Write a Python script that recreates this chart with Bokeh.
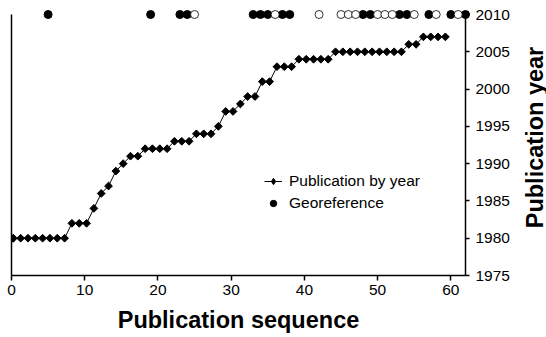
import math
from bokeh.plotting import figure
from bokeh.models import (ColumnDataSource, Range1d, LinearAxis, FixedTicker,
                          Legend, LegendItem)
from bokeh.core.properties import value
from bokeh.transform import dodge
from bokeh.embed import file_html
from bokeh.resources import INLINE

# ---- data ----
pub_seq = list(range(1, 61))
pub_year = ([1980] * 8 + [1982] * 3 + [1984, 1986, 1987, 1989, 1990]
            + [1991] * 2 + [1992] * 4 + [1993] * 3 + [1994] * 3 + [1995]
            + [1997] * 2 + [1998] + [1999] * 2 + [2001] * 2 + [2003] * 3
            + [2004] * 5 + [2005] * 10 + [2006] * 2 + [2007] * 4)

geo_filled = [5, 19, 23, 24, 33, 34, 35, 37, 38, 48, 49, 53, 54, 57, 60, 62]
geo_open = [25, 36, 42, 45, 46, 47, 50, 51, 52, 55, 58, 61]
geo_year = 2010

x_ticks = [0, 10, 20, 30, 40, 50, 60]
y_ticks = [1975, 1980, 1985, 1990, 1995, 2000, 2005, 2010]

FONT = "Liberation Sans"

xr = Range1d(0, 62)
yr = Range1d(1975, 2010)
p = figure(frame_width=454, frame_height=261, output_backend="svg",
           toolbar_location=None, x_range=xr, y_range=yr,
           x_axis_location=None, y_axis_location=None,
           min_border_left=11, min_border_top=14, min_border_right=81,
           min_border_bottom=62)
p.outline_line_color = None
p.background_fill_color = "white"
p.border_fill_color = "white"
p.grid.visible = False

# bottom axis
xaxis = LinearAxis(ticker=FixedTicker(ticks=x_ticks), axis_label="Publication sequence")
xaxis.axis_line_color = "black"
xaxis.axis_line_width = 1.5
xaxis.major_tick_line_color = "black"
xaxis.major_tick_line_width = 1.5
xaxis.major_tick_out = 5
xaxis.major_tick_in = 0
xaxis.minor_tick_out = 0
xaxis.minor_tick_in = 0
xaxis.major_label_text_font = FONT
xaxis.major_label_text_font_size = "15.5px"
xaxis.major_label_text_color = "black"
xaxis.major_label_standoff = 4
xaxis.axis_label_text_font = FONT
xaxis.axis_label_text_font_size = "23.5px"
xaxis.axis_label_text_font_style = "bold"
xaxis.axis_label_text_color = "black"
xaxis.axis_label_standoff = 9
p.add_layout(xaxis, "below")

# right axis (ticks and tick labels)
yaxis = LinearAxis(ticker=FixedTicker(ticks=y_ticks), bounds=(1975, 2010))
yaxis.axis_line_color = "black"
yaxis.axis_line_width = 1.5
yaxis.major_tick_line_color = "black"
yaxis.major_tick_line_width = 1.5
yaxis.major_tick_out = 4
yaxis.major_tick_in = 0
yaxis.minor_tick_out = 0
yaxis.minor_tick_in = 0
yaxis.major_label_text_font = FONT
yaxis.major_label_text_font_size = "15.5px"
yaxis.major_label_text_color = "black"
yaxis.major_label_standoff = 6
p.add_layout(yaxis, "right")

# right axis title, reading bottom to top, beside the tick labels
title_src = ColumnDataSource(dict(x=[xr.end], y=[(yr.start + yr.end) / 2],
                                  t=["Publication year"]))
p.text(x="x", y="y", text="t", source=title_src, angle=math.pi / 2,
       x_offset=69, y_offset=-7.5, text_align="center", text_baseline="middle",
       text_font=value(FONT), text_font_size="23.5px", text_font_style="bold",
       text_color="black", level="overlay")

# left spine only
laxis = LinearAxis(ticker=FixedTicker(ticks=[]), bounds=(1975, 2010))
laxis.axis_line_color = "black"
laxis.axis_line_width = 1.5
laxis.major_tick_out = 0
laxis.major_tick_in = 0
laxis.minor_tick_out = 0
laxis.minor_tick_in = 0
laxis.major_label_text_font_size = "0px"
p.add_layout(laxis, "left")

# publication by year
src = ColumnDataSource(dict(seq=pub_seq, year=pub_year))
ln = p.line(x=dodge("seq", -0.75), y="year", source=src,
            line_color="black", line_width=1)
# diamond used for the legend swatch (sits under the first marker)
first_src = ColumnDataSource(dict(seq=pub_seq[:1], year=pub_year[:1]))
leg_diamond = p.scatter(x=dodge("seq", -0.75), y="year", source=first_src,
                        marker="diamond", size=8,
                        fill_color="black", line_color="black")
pts = p.scatter(x=dodge("seq", -0.75), y="year", source=src, marker="square",
                angle=math.pi / 4, size=5.5, fill_color="black", line_color="black")

# georeference markers
gf_src = ColumnDataSource(dict(seq=geo_filled, year=[geo_year] * len(geo_filled)))
go_src = ColumnDataSource(dict(seq=geo_open, year=[geo_year] * len(geo_open)))
gf = p.scatter(x="seq", y="year", source=gf_src, marker="circle", size=8,
               fill_color="black", line_color="black", level="overlay")
go = p.scatter(x="seq", y="year", source=go_src, marker="circle", size=8,
               fill_color="white", line_color="black", line_width=0.8, level="overlay")

legend = Legend(items=[LegendItem(label="Publication by year", renderers=[ln, leg_diamond]),
                       LegendItem(label="Georeference", renderers=[gf])],
                location=(253, 63))
legend.border_line_color = None
legend.background_fill_alpha = 0
legend.padding = 0
legend.margin = 0
legend.spacing = 4
legend.glyph_width = 18
legend.glyph_height = 16
legend.label_height = 16
legend.label_standoff = 7
legend.label_text_font = FONT
legend.label_text_font_size = "15.5px"
legend.label_text_color = "black"
p.add_layout(legend)

open("out.html", "w").write(file_html(p, INLINE))
